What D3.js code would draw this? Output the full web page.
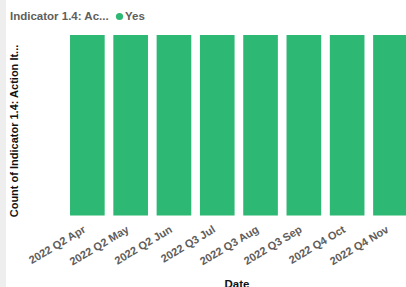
<!DOCTYPE html>
<html lang="en">
<head>
  <meta charset="UTF-8">
  <title>Indicator 1.4</title>
  <style>
    body { margin: 0; background: #fff; }
    text { font-family: "Liberation Sans", Arial, sans-serif; }
  </style>
</head>
<body>
  <svg id="chart" width="406" height="287"></svg>
  <script src="https://cdn.jsdelivr.net/npm/d3@7"></script>
  <script>
  var dates = ['2022 Q2 Apr', '2022 Q2 May', '2022 Q2 Jun', '2022 Q3 Jul',
               '2022 Q3 Aug', '2022 Q3 Sep', '2022 Q4 Oct', '2022 Q4 Nov']
  var counts = [1, 1, 1, 1, 1, 1, 1, 1]
  var seriesName = 'Yes'

  const svg = d3.select('#chart')
  const green = '#2db873'

  // grey strip on the left edge
  svg.append('rect').attr('x', 0).attr('y', 0).attr('width', 6).attr('height', 287).attr('fill', '#eeeeee')

  const x = d3.scaleBand()
    .domain(dates)
    .range([65.7, 412.1])
    .paddingInner(0.2)
    .paddingOuter(0.1)

  const y = d3.scaleLinear()
    .domain([0, d3.max(counts)])
    .range([215.5, 35])

  // bars
  svg.append('g')
    .selectAll('rect')
    .data(dates)
    .enter()
    .append('rect')
    .attr('x', d => x(d))
    .attr('y', (d, i) => y(counts[i]))
    .attr('width', x.bandwidth())
    .attr('height', (d, i) => y(0) - y(counts[i]))
    .attr('fill', green)

  // x axis labels
  const xAxis = svg.append('g')
    .attr('transform', 'translate(0,215.5)')
    .call(d3.axisBottom(x).tickSize(0).tickPadding(0))
  xAxis.select('.domain').remove()
  xAxis.selectAll('text')
    .attr('fill', '#5f5d5b')
    .attr('font-size', '11px')
    .attr('font-weight', 'bold')
    .attr('text-anchor', 'end')
    .attr('dy', 0)
    .attr('y', 0)
    .attr('transform', 'translate(-1,16) rotate(-31)')

  // title + legend
  svg.append('text')
    .attr('x', 10).attr('y', 20)
    .attr('font-size', '11.5px').attr('font-weight', 'bold')
    .attr('fill', '#605e5c')
    .attr('font-family', 'Roboto, sans-serif')
    .text('Indicator 1.4:  Ac...')
  svg.append('circle')
    .attr('cx', 119.5).attr('cy', 16.5).attr('r', 3.6)
    .attr('fill', green)
  svg.append('text')
    .attr('x', 125).attr('y', 20)
    .attr('font-size', '11.5px').attr('font-weight', 'bold')
    .attr('fill', '#605e5c')
    .attr('font-family', 'Roboto, sans-serif')
    .text(seriesName)

  // axis titles
  svg.append('text')
    .attr('transform', 'translate(18,131) rotate(-90)')
    .attr('text-anchor', 'middle')
    .attr('font-size', '11px').attr('font-weight', 'bold')
    .attr('fill', '#111')
    .text('Count of Indicator 1.4: Action It...')
  svg.append('text')
    .attr('x', 237).attr('y', 288)
    .attr('text-anchor', 'middle')
    .attr('font-size', '11.5px').attr('font-weight', 'bold')
    .attr('fill', '#111')
    .text('Date')
  </script>
</body>
</html>
